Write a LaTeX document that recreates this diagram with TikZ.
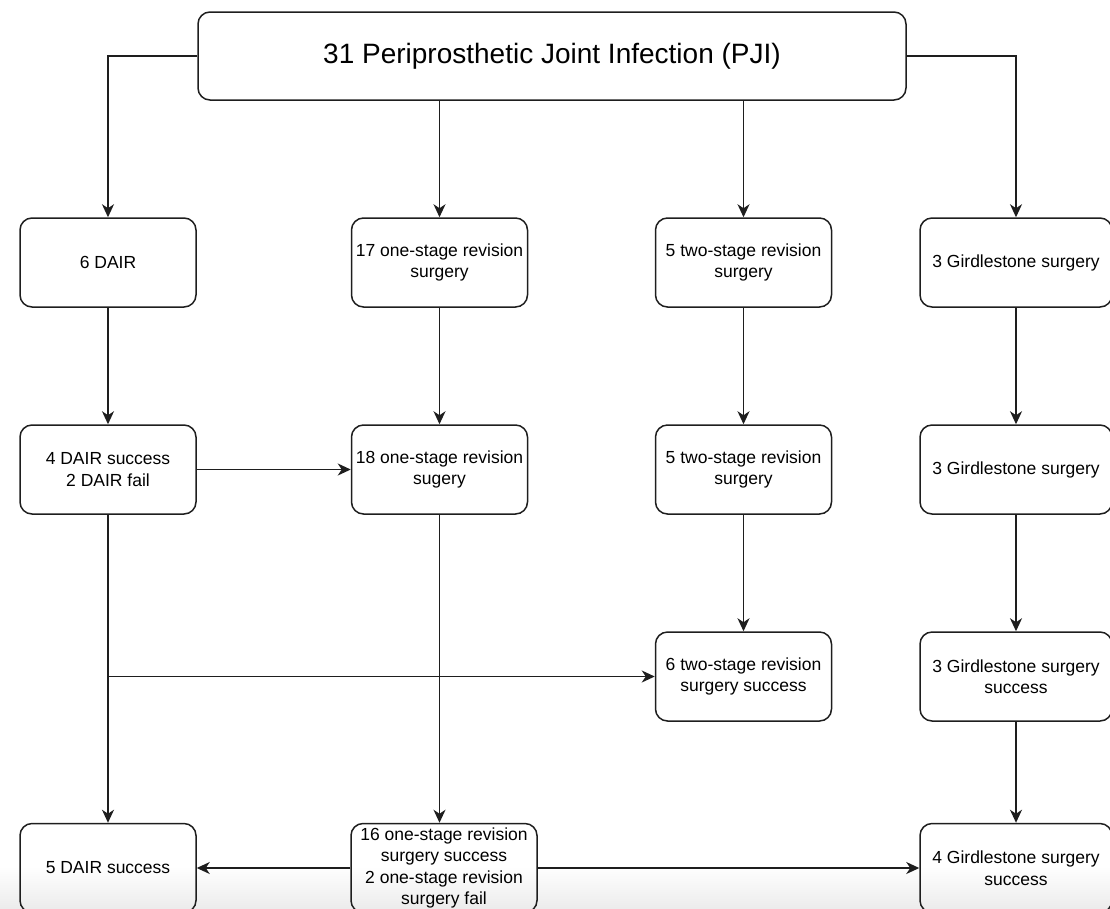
\documentclass[tikz,border=0pt]{standalone}
\usepackage{fontspec}
\setmainfont{Liberation Sans}
\usetikzlibrary{arrows.meta, calc, positioning}
\definecolor{boxLine}{RGB}{30, 30, 30}
\definecolor{bandGrey}{RGB}{236, 236, 236}

\begin{document}
\begin{tikzpicture} [
        x=1pt, y=-1pt,
        line width=1.5pt,
        box/.style={draw=boxLine, rounded corners=12pt, align=center,
            minimum width=176pt, minimum height=89pt, inner sep=2pt,
            font=\fontsize{17.5}{21.5}\selectfont},
        wide box/.style={box, minimum width=192pt},
        title box/.style={box, minimum width=708pt, minimum height=88pt,
            font=\fontsize{28}{34}\selectfont},
        arr/.style={draw=boxLine, -{Stealth[length=13pt, width=12pt, inset=4pt]}}
    ]

    \useasboundingbox (0,0) rectangle (1110,908);
    % screenshot shading at the lower edge
    \shade[top color=white, bottom color=bandGrey] (0,866) rectangle (1110,908);

    \node[title box] (pji) at (552,56) {31 Periprosthetic Joint Infection (PJI)};

    \node[box] (dair 1) at (108,262.5) {6 DAIR};
    \node[box] (one 1) at (439.5,262.5) {17 one-stage revision\\surgery};
    \node[box] (two 1) at (743.5,262.5) {5 two-stage revision\\surgery};
    \node[wide box] (gird 1) at (1016,262.5) {3 Girdlestone surgery};

    \node[box] (dair 2) at (108,469.5) {4 DAIR success\\2 DAIR fail};
    \node[box] (one 2) at (439.5,469.5) {18 one-stage revision\\sugery};
    \node[box] (two 2) at (743.5,469.5) {5 two-stage revision\\surgery};
    \node[wide box] (gird 2) at (1016,469.5) {3 Girdlestone surgery};

    \node[box] (two 3) at (743.5,676.5) {6 two-stage revision\\surgery success};
    \node[wide box] (gird 3) at (1016,676.5) {3 Girdlestone surgery\\success};

    \node[box] (dair 4) at (108,868) {5 DAIR success};
    \node[box, minimum width=186pt] (one 4) at (444,868) {16 one-stage revision\\surgery success\\2 one-stage revision\\surgery fail};
    \node[wide box] (gird 4) at (1016,868) {4 Girdlestone surgery\\success};

    \draw[arr] (pji.west) -| (dair 1.north);
    \draw[arr] (pji.south -| one 1.north) -- (one 1.north);
    \draw[arr] (pji.south -| two 1.north) -- (two 1.north);
    \draw[arr] (pji.east) -| (gird 1.north);

    \foreach \c in {dair, one, two, gird} {
        \draw[arr] (\c\space1) -- (\c\space2);
    }

    \draw[arr] (dair 2) -- (one 2);
    \draw[arr] (dair 2) -- (dair 4);
    \draw[arr] (dair 2.south |- two 3.west) -- (two 3.west);

    \draw[arr] (two 2) -- (two 3);
    \draw[arr] (gird 2) -- (gird 3);
    \draw[arr] (gird 3) -- (gird 4);

    \draw[arr] (one 2.south) -- (one 2.south |- one 4.north);
    \draw[arr] (one 4) -- (dair 4);
    \draw[arr] (one 4) -- (gird 4);

\end{tikzpicture}
\end{document}
